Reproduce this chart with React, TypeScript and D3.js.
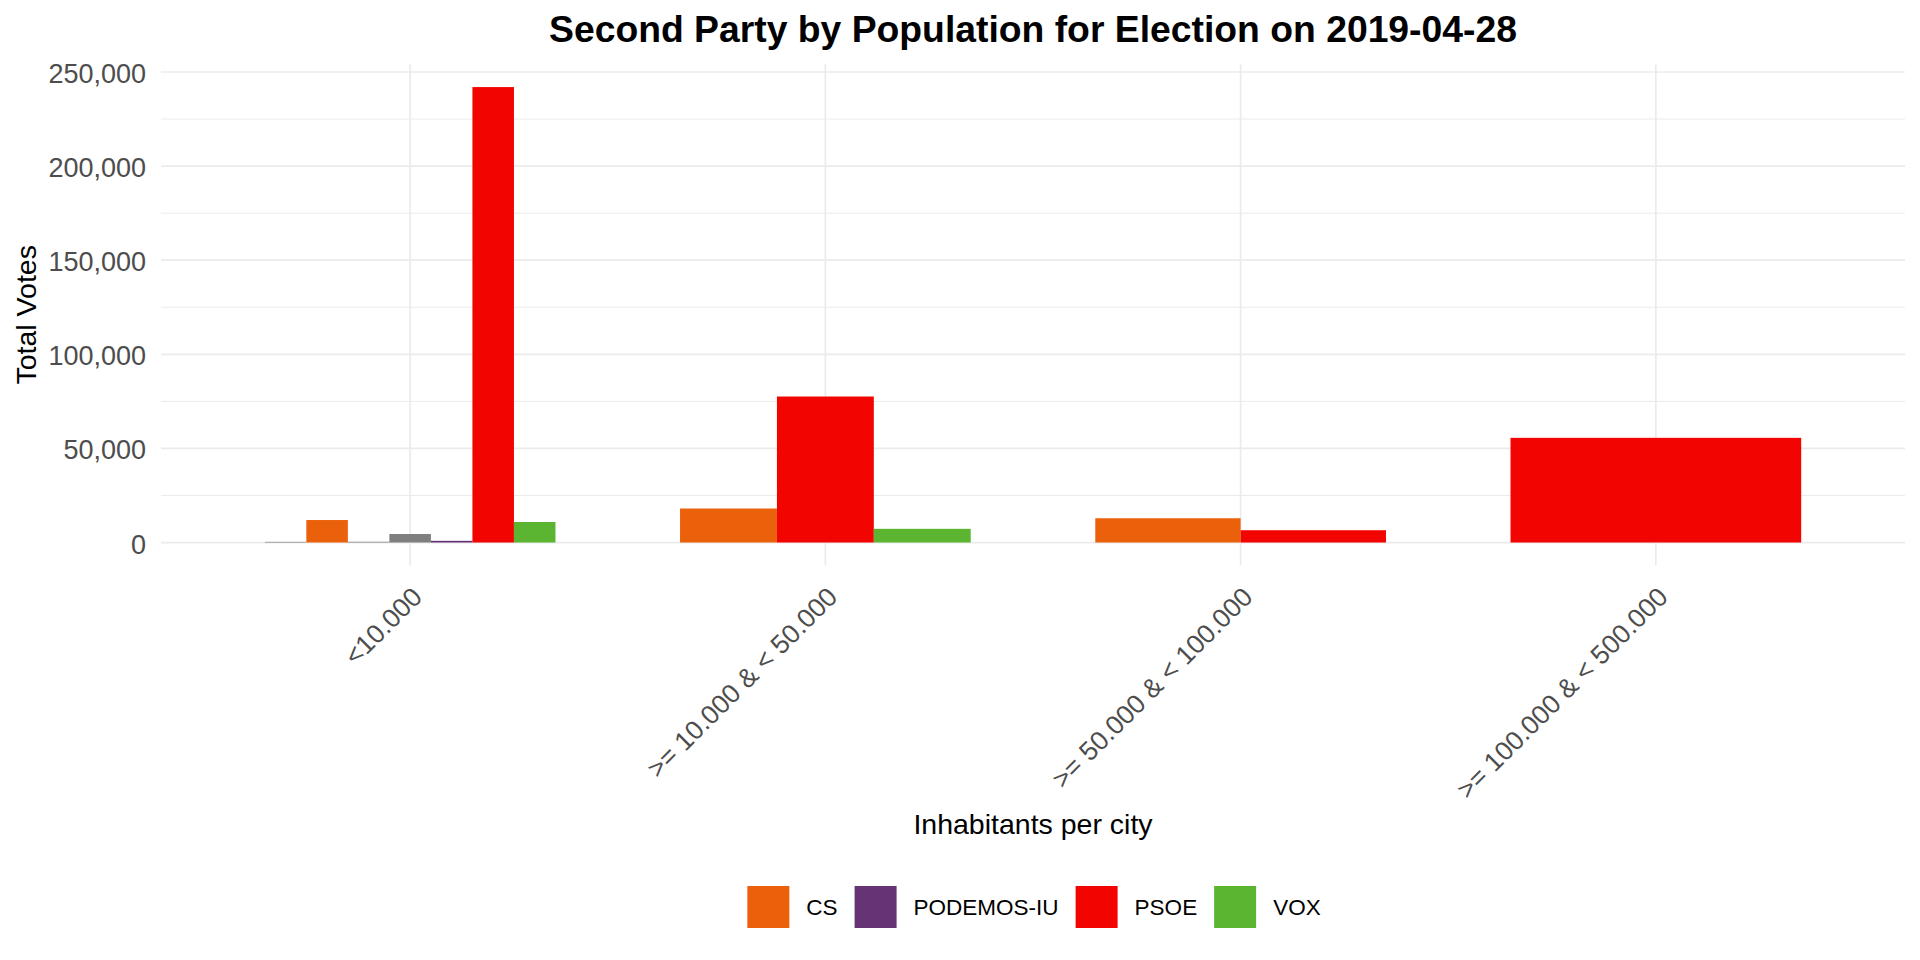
import React from "react";
import * as d3 from "d3";

// ---- data ----
const categories = [
  "<10.000",
  ">= 10.000 & < 50.000",
  ">= 50.000 & < 100.000",
  ">= 100.000 & < 500.000",
];
const parties = ["CCa-PNC", "CS", "EAJ-PNV", "ERC-SOBIRANISTES", "PODEMOS-IU", "PSOE", "VOX"];
const votesCCa: (number | null)[] = [350, null, null, null];
const votesCS: (number | null)[] = [11950, 18070, 12900, null];
const votesPNV: (number | null)[] = [400, null, null, null];
const votesERC: (number | null)[] = [4520, null, null, null];
const votesPodemos: (number | null)[] = [900, null, null, null];
const votesPSOE: (number | null)[] = [242000, 77580, 6540, 55630];
const votesVOX: (number | null)[] = [10900, 7280, null, null];
const legendParties = ["CS", "PODEMOS-IU", "PSOE", "VOX"];
const yTicks = [0, 50000, 100000, 150000, 200000, 250000];
const yMinorTicks = [25000, 75000, 125000, 175000, 225000];

const seriesByParty: Record<string, (number | null)[]> = {
  "CCa-PNC": votesCCa,
  CS: votesCS,
  "EAJ-PNV": votesPNV,
  "ERC-SOBIRANISTES": votesERC,
  "PODEMOS-IU": votesPodemos,
  PSOE: votesPSOE,
  VOX: votesVOX,
};

// ---- styles ----
const partyColors: Record<string, string> = {
  CS: "#EB600A",
  "PODEMOS-IU": "#663375",
  PSOE: "#F20500",
  VOX: "#5BB531",
};
const naColor = "#7F7F7F";
const FONT = "'Liberation Sans', Arial, Helvetica, sans-serif";

const W = 1920;
const H = 960;
const panel = { left: 161, right: 1905, top: 64.3, bottom: 565.3 };

function measure(text: string, size: number, weight = "normal") {
  const c = document.createElement("canvas").getContext("2d");
  if (!c) return text.length * size * 0.6;
  c.font = `${weight} ${size}px 'Liberation Sans', Arial, sans-serif`;
  return c.measureText(text).width;
}

export default function App() {
  const x = d3
    .scaleBand<string>()
    .domain(categories)
    .range([panel.left, panel.right])
    .paddingInner(0)
    .paddingOuter(0.1);
  const step = x.step();
  const cx = (c: string) => (x(c) as number) + step / 2;

  const allVals = parties.flatMap((p) => seriesByParty[p].filter((v) => v != null) as number[]);
  const maxV = d3.max(allVals) as number;
  const span = maxV - 0;
  const y = d3
    .scaleLinear()
    .domain([0 - span * 0.05, maxV + span * 0.05])
    .range([panel.bottom, panel.top]);

  const fmt = d3.format(",");

  const bars: { key: string; x: number; w: number; y0: number; y1: number; fill: string }[] = [];
  categories.forEach((c, i) => {
    const present = parties.filter((p) => seriesByParty[p][i] != null);
    const inner = d3
      .scaleBand<string>()
      .domain(present)
      .range([cx(c) - step * 0.35, cx(c) + step * 0.35])
      .padding(0);
    present.forEach((p) => {
      const v = seriesByParty[p][i] as number;
      bars.push({
        key: c + p,
        x: inner(p) as number,
        w: inner.bandwidth(),
        y0: y(0),
        y1: y(v),
        fill: partyColors[p] ?? naColor,
      });
    });
  });

  // legend layout
  const keySize = 42;
  const gap = 17;
  const legendFont = 22.5;
  const items = legendParties.map((p) => ({ p, tw: measure(p, legendFont) }));
  const totalW = items.reduce((s, it) => s + keySize + gap + it.tw, 0) + gap * (items.length - 1);
  const midX = (panel.left + panel.right) / 2;
  let lx = midX - totalW / 2 + 1;
  const legendItems = items.map((it) => {
    const o = { ...it, x: lx };
    lx += keySize + gap + it.tw + gap;
    return o;
  });
  const legendTop = 886;

  return (
    <svg
      width={W}
      height={H}
      viewBox={`0 0 ${W} ${H}`}
      style={{ position: "absolute", left: 0, top: 0, background: "#fff", fontFamily: FONT }}
    >
      <rect x={0} y={0} width={W} height={H} fill="#fff" />
      {/* minor y grid */}
      {yMinorTicks.map((t) => (
        <line key={"mn" + t} x1={panel.left} x2={panel.right} y1={y(t)} y2={y(t)} stroke="#EBEBEB" strokeWidth={1} />
      ))}
      {/* major y grid */}
      {yTicks.map((t) => (
        <line key={"mj" + t} x1={panel.left} x2={panel.right} y1={y(t)} y2={y(t)} stroke="#EBEBEB" strokeWidth={1.7} />
      ))}
      {/* x grid */}
      {categories.map((c) => (
        <line key={"xg" + c} x1={cx(c)} x2={cx(c)} y1={panel.top} y2={panel.bottom} stroke="#EBEBEB" strokeWidth={1.7} />
      ))}
      {/* bars */}
      {bars.map((b) => (
        <rect key={b.key} x={b.x} width={b.w} y={Math.min(b.y0, b.y1)} height={Math.abs(b.y0 - b.y1)} fill={b.fill} />
      ))}
      {/* y tick labels */}
      {yTicks.map((t) => (
        <text key={"yl" + t} x={146} y={y(t)} dy="0.41em" textAnchor="end" fontSize={27} fill="#4D4D4D">
          {fmt(t)}
        </text>
      ))}
      {/* x tick labels */}
      {categories.map((c) => (
        <text
          key={"xl" + c}
          transform={`translate(${cx(c)},${585}) rotate(-45)`}
          dy="0.72em"
          textAnchor="end"
          fontSize={26.5}
          fill="#4D4D4D"
        >
          {c}
        </text>
      ))}
      {/* axis titles */}
      <text x={midX} y={834} textAnchor="middle" fontSize={28.5} fill="#000">
        Inhabitants per city
      </text>
      <text
        transform={`translate(36,${(panel.top + panel.bottom) / 2}) rotate(-90)`}
        textAnchor="middle"
        fontSize={28.5}
        fill="#000"
      >
        Total Votes
      </text>
      {/* title */}
      <text x={midX} y={42} textAnchor="middle" fontSize={37.3} fontWeight="bold" fill="#000">
        Second Party by Population for Election on 2019-04-28
      </text>
      {/* legend */}
      {legendItems.map((it) => (
        <g key={"lg" + it.p}>
          <rect x={it.x} y={legendTop} width={keySize} height={keySize} fill={partyColors[it.p]} />
          <text x={it.x + keySize + gap} y={legendTop + keySize / 2} dy="0.36em" fontSize={legendFont} fill="#000">
            {it.p}
          </text>
        </g>
      ))}
    </svg>
  );
}
